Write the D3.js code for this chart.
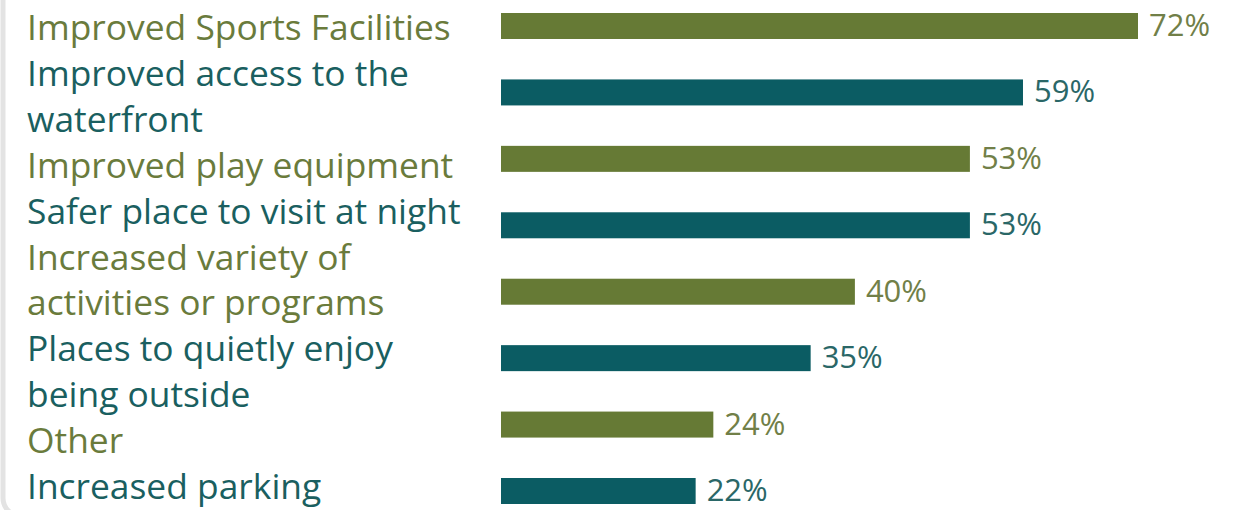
<!DOCTYPE html>
<html>
<head>
<meta charset="utf-8">
<script src="https://cdn.jsdelivr.net/npm/d3@7"></script>
<style>
  html, body { margin: 0; padding: 0; background: #fff; }
  svg { display: block; font-family: "Open Sans", sans-serif; }
</style>
</head>
<body>
<div id="chart"></div>
<script>
const width = 1238;
const height = 510;

// survey answers, top to bottom
const categories = [
  "Improved Sports Facilities",
  "Improved access to the\nwaterfront",
  "Improved play equipment",
  "Safer place to visit at night",
  "Increased variety of\nactivities or programs",
  "Places to quietly enjoy\nbeing outside",
  "Other",
  "Increased parking"
];
const values = [72, 59, 53, 53, 40, 35, 24, 22];

const barColors = ["#667a35", "#0b5c63"];
const textColors = ["#6a7b3c", "#1a5f60"];
const valueColors = ["#717f48", "#2a6767"];

const svg = d3.select("#chart").append("svg")
  .attr("width", width)
  .attr("height", height);

// card outline on the left / bottom
svg.append("rect")
  .attr("x", 3)
  .attr("y", -40)
  .attr("width", width + 40)
  .attr("height", height + 46)
  .attr("rx", 18)
  .attr("fill", "#fff")
  .attr("stroke", "#e3e3e3")
  .attr("stroke-width", 5);

const x = d3.scaleLinear()
  .domain([0, d3.max(values)])
  .range([501, 1138]);

const y = d3.scalePoint()
  .domain(categories)
  .range([26, 491]);

const barH = 26;

svg.selectAll("rect.bar")
  .data(categories)
  .enter()
  .append("rect")
  .attr("class", "bar")
  .attr("x", x(0))
  .attr("y", d => y(d) - barH / 2)
  .attr("width", (d, i) => x(values[i]) - x(0))
  .attr("height", barH)
  .attr("fill", (d, i) => barColors[i % 2]);

svg.selectAll("text.value")
  .data(categories)
  .enter()
  .append("text")
  .attr("class", "value")
  .attr("x", (d, i) => x(values[i]) + 11)
  .attr("y", d => y(d) + barH / 2 - 3)
  .attr("font-size", 31)
  .attr("fill", (d, i) => valueColors[i % 2])
  .text((d, i) => values[i] + "%");

// labels flow as one text column with even line spacing
const lines = [];
categories.forEach((c, i) => {
  c.split("\n").forEach(t => lines.push({ text: t, i }));
});
const lineY = d3.scaleLinear()
  .domain([0, lines.length - 1])
  .range([40, 499]);

svg.selectAll("text.label")
  .data(lines)
  .enter()
  .append("text")
  .attr("class", "label")
  .attr("x", 27)
  .attr("y", (d, k) => lineY(k))
  .attr("font-size", 30)
  .attr("fill", d => textColors[d.i % 2])
  .text(d => d.text);

// fit the column width to the reference (first line ~424px wide)
const first = svg.select("text.label").node();
const w = first.getComputedTextLength();
const fs = 30 * 424 / w;
svg.selectAll("text.label").attr("font-size", fs);
</script>
</body>
</html>
